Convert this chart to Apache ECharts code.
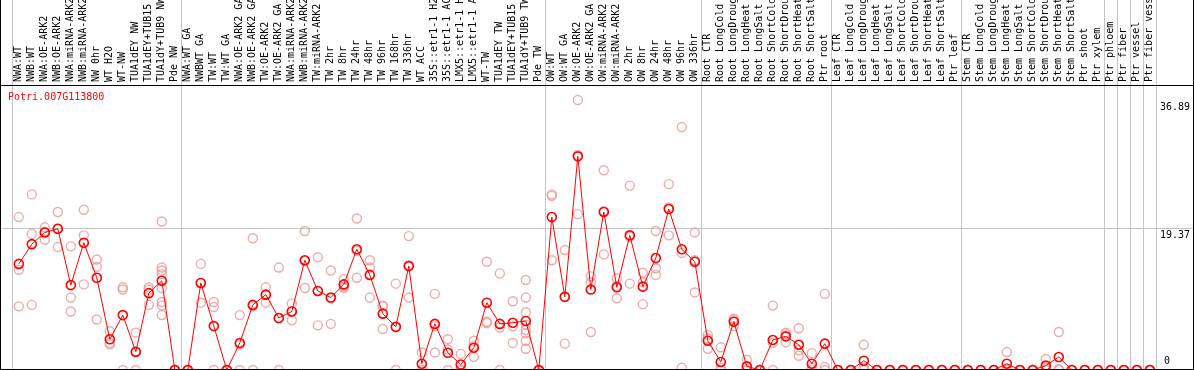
<!DOCTYPE html>
<html><head><meta charset="utf-8">
<script src="https://cdn.jsdelivr.net/npm/echarts@6/dist/echarts.min.js"></script>
<style>html,body{margin:0;padding:0;background:#fff}#c{width:1194px;height:370px}</style>
</head><body><div id="c"></div>
<script>
const geneId = 'Potri.007G113800';
const categories = [
 'NWA:WT','NWB:WT','NWA:OE-ARK2','NWB:OE-ARK2','NWA:miRNA-ARK2','NWB:miRNA-ARK2','NW 0hr','WT H2O','WT-NW','TUA1dEY NW','TUA1dEY+TUB15 NW','TUA1dY+TUB9 NW','Pde NW',
 'NWA:WT GA','NWBWT GA','TW:WT','TW:WT GA','NWA:OE-ARK2 GA','NWB:OE-ARK2 GA','TW:OE-ARK2','TW:OE-ARK2 GA','NWA:miRNA-ARK2','NWB:miRNA-ARK2','TW:miRNA-ARK2','TW 2hr','TW 8hr','TW 24hr','TW 48hr','TW 96hr','TW 168hr','TW 336hr','WT ACC','35S::etr1-1 H2O','35S::etr1-1 ACC','LMX5::etr1-1 H2O','LMX5::etr1-1 ACC','WT-TW','TUA1dEY TW','TUA1dEY+TUB15 TW','TUA1dY+TUB9 TW','Pde TW',
 'OW:WT','OW:WT GA','OW:OE-ARK2','OW:OE-ARK2 GA','OW:miRNA-ARK2','OW:miRNA-ARK2','OW 2hr','OW 8hr','OW 24hr','OW 48hr','OW 96hr','OW 336hr',
 'Root CTR','Root LongCold','Root LongDrought','Root LongHeat','Root LongSalt','Root ShortCold','Root ShortDrought','Root ShortHeat','Root ShortSalt','Ptr root',
 'Leaf CTR','Leaf LongCold','Leaf LongDrought','Leaf LongHeat','Leaf LongSalt','Leaf ShortCold','Leaf ShortDrought','Leaf ShortHeat','Leaf ShortSalt','Ptr leaf',
 'Stem CTR','Stem LongCold','Stem LongDrought','Stem LongHeat','Stem LongSalt','Stem ShortCold','Stem ShortDrought','Stem ShortHeat','Stem ShortSalt','Ptr shoot','Ptr xylem',
 'Ptr phloem','Ptr fiber','Ptr vessel','Ptr fiber vessel'
];
const means = [
 14.5,17.2,18.8,19.3,11.6,17.4,12.6,4.2,7.5,2.5,10.5,12.2,0,
 0,11.9,6.0,0,3.7,8.9,10.3,7.1,8.0,15.0,10.8,9.9,11.7,16.5,13.0,7.7,5.9,14.2,0.85,6.3,2.35,0.75,3.05,9.2,6.3,6.45,6.7,0,
 20.9,10.0,29.2,11.0,21.6,11.3,18.4,11.4,15.3,22.0,16.5,14.8,
 4.0,1.1,6.6,0.5,0,4.1,4.6,3.45,0.86,3.6,
 0,0,1.27,0,0,0,0,0,0,0,
 0,0,0,0.86,0,0,0.6,1.77,0,0,0,
 0,0,0,0
];
const replicates = [
 [20.9,13.7,8.7],[24.0,18.6,8.9],[19.5,18.9,17.8],[21.6,19.3,16.8],[16.9,9.9,8.0],[21.9,18.4,11.7],[15.1,14.1,6.9],[5.3,3.7,3.5],[11.3,11.0,0],[5.1,2.4,0],[11.3,11.0,8.9],[20.3,14.0,13.6,13.1,11.2,9.3,8.8,7.5],[0,0,0],
 [0,0,0],[14.5,11.9,9.2],[9.3,8.6,0],[0,0,0],[7.5,3.5,0],[18.0,8.7,0],[11.3,10.3,9.2],[14.0,7.1,0],[9.1,8.0,6.8],[19.0,14.9,11.2],[15.4,10.8,6.1],[13.6,9.8,6.3],[12.4,11.4,11.2],[20.7,16.3,12.6],[15.0,14.0,9.9],[8.8,8.7,5.6],[11.8,5.9,0],[18.3,14.3,9.9],[2.4,0,0],[10.4,6.0,2.4],[4.2,2.8,0],[2.2,0,0],[4.0,3.3,1.8],[14.8,6.6,6.4],[13.2,5.8,0],[9.4,6.0,3.7],[12.3,9.9,7.9,6.2,5.5,5.0,4.0,2.9],[0,0,0],
 [24.0,23.8,15.0],[16.4,10.0,3.6],[36.89,29.4,21.3],[12.8,12.0,5.2],[27.3,21.7,15.8],[12.5,11.5,9.8],[25.2,18.2,11.8],[13.3,12.0,9.0],[19.0,13.9,13.0],[25.4,22.2,18.4],[33.2,16.0,0.3],[18.8,15.0,10.6],
 [4.8,4.3,2.9],[3.1,0.3,0],[7.0,6.8,6.0],[1.4,0,0],[0,0,0],[8.8,3.7,0],[5.1,4.9,3.8],[5.7,2.7,1.95],[2.3,0.3,0],[10.4,0.4,0],
 [0,0,0],[0,0,0],[3.45,0.36,0],[0,0,0],[0,0,0],[0,0,0],[0,0,0],[0,0,0],[0,0,0],[0,0,0],
 [0,0,0],[0,0,0],[0,0,0],[2.45,0.1,0],[0,0,0],[0,0,0],[1.5,0.3,0],[5.2,0.1,0],[0,0,0],[0,0,0],[0,0,0],
 [0,0,0],[0,0,0],[0,0,0],[0,0,0]
];
const groupStarts = [0,13,41,53,63,73,84,85,86,87];
const yTickValues = [36.89,19.37,0];
const yTickLabels = ['36.89','19.37','0'];
const yMax = 38.95;

const FONT = 'DejaVu Sans Mono';
const chart = echarts.init(document.getElementById('c'), null, {renderer:'canvas'});
const repData = [];
replicates.forEach((arr,i)=>arr.forEach(v=>repData.push([i,v])));
const splitFn = (idx)=>groupStarts.indexOf(idx) >= 0;
const GL = 12.3, GW = 1144;
chart.setOption({
  animation:false,
  backgroundColor:'#fff',
  grid:[
    {left:GL, width:GW, top:85, height:285, containLabel:false, outerBoundsMode:'none'},
    {left:GL, width:GW, top:0, height:85, containLabel:false, outerBoundsMode:'none'}
  ],
  xAxis:[
    {type:'category', gridIndex:0, data:categories, position:'top', boundaryGap:true,
     axisLine:{show:false}, axisTick:{show:false},
     axisLabel:{interval:0, rotate:90, margin:3, fontFamily:FONT, fontSize:10, color:'#000', hideOverlap:false},
     splitLine:{show:true, interval:splitFn, lineStyle:{color:'#c4c4c4', width:1}}},
    {type:'category', gridIndex:1, data:categories, boundaryGap:true,
     axisLine:{show:false}, axisTick:{show:false}, axisLabel:{show:false},
     splitLine:{show:true, interval:splitFn, lineStyle:{color:'#c4c4c4', width:1}}}
  ],
  yAxis:[
    {type:'value', gridIndex:0, min:0, max:yMax, show:false},
    {type:'value', gridIndex:1, min:0, max:1, show:false}
  ],
  series:[
    {type:'scatter', name:'replicates', xAxisIndex:0, yAxisIndex:0, data:repData, symbol:'circle', symbolSize:9,
     itemStyle:{color:'rgba(0,0,0,0)', borderColor:'#eb9595', borderWidth:1.4}, z:2, silent:true, clip:false},
    {type:'line', name:'mean', xAxisIndex:0, yAxisIndex:0, data:means, symbol:'circle', symbolSize:9, showAllSymbol:true,
     lineStyle:{color:'#ff0000', width:1}, itemStyle:{color:'rgba(0,0,0,0)', borderColor:'#ff0000', borderWidth:1.6},
     z:3, silent:true, clip:false}
  ]
});
const py = v => chart.convertToPixel({yAxisIndex:0}, v);
const graphics = [];
const yg = Math.round(py(yTickValues[1])) + 0.5;
graphics.push({type:'line', shape:{x1:0,y1:yg,x2:1194,y2:yg}, style:{stroke:'#c4c4c4', lineWidth:1}, z:1});
graphics.push({type:'line', shape:{x1:0,y1:85.5,x2:1194,y2:85.5}, style:{stroke:'#000', lineWidth:1}, z:10});
graphics.push({type:'line', shape:{x1:0,y1:369.5,x2:1194,y2:369.5}, style:{stroke:'#000', lineWidth:1}, z:10});
graphics.push({type:'line', shape:{x1:0.5,y1:0,x2:0.5,y2:370}, style:{stroke:'#000', lineWidth:1}, z:10});
graphics.push({type:'line', shape:{x1:1193.5,y1:0,x2:1193.5,y2:370}, style:{stroke:'#000', lineWidth:1}, z:10});
yTickValues.forEach((v,i)=>{
  const y = py(v);
  const isZero = v === 0;
  graphics.push({type:'text', x: isZero ? 1164 : 1160, y: isZero ? y - 4 : y + 2,
    style:{text:yTickLabels[i], font:'10px '+FONT, fill:'#000', verticalAlign: isZero ? 'bottom' : 'top', align:'left'}, z:10});
});
graphics.push({type:'text', x:8, y:92, style:{text:geneId, font:'10px '+FONT, fill:'#ff0000', verticalAlign:'top', align:'left'}, z:10});
chart.setOption({graphic:graphics});
</script>
</body></html>
